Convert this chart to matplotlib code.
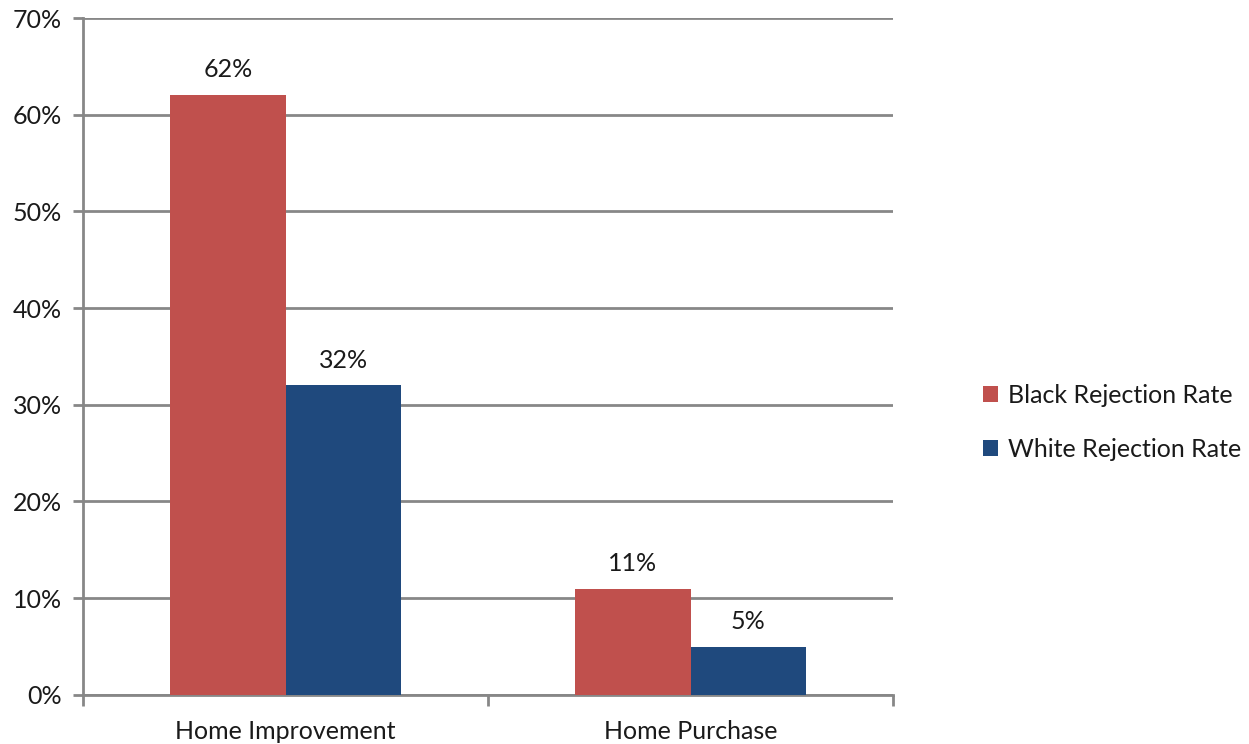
import matplotlib
matplotlib.use("Agg")
import matplotlib.pyplot as plt
import numpy as np
from matplotlib.patches import Patch

plt.rcParams['font.family'] = ['Lato', 'DejaVu Sans']

# data
categories = ['Home Improvement', 'Home Purchase']
series_names = ['Black Rejection Rate', 'White Rejection Rate']
black_rate = [62, 11]
white_rate = [32, 5]
y_ticks = [0, 10, 20, 30, 40, 50, 60, 70]

red = '#C0504D'
blue = '#1F497D'
grey = '#878787'
txt = '#1a1a1a'
fs = 18

fig = plt.figure(figsize=(12.49, 7.44), dpi=100)
ax = fig.add_axes([0.0665, 0.066, 0.6485, 0.9098])

x = np.arange(len(categories))
w = 0.285
b1 = ax.bar(x - w / 2, black_rate, w, color=red, zorder=3)
b2 = ax.bar(x + w / 2, white_rate, w, color=blue, zorder=3)

for bars, vals in ((b1, black_rate), (b2, white_rate)):
    for r, v in zip(bars, vals):
        ax.annotate(f'{v}%', (r.get_x() + r.get_width() / 2, v),
                    xytext=(0, 10), textcoords='offset points',
                    ha='center', va='bottom', fontsize=fs, color=txt)

ax.set_xlim(-0.5, 1.5)
ax.set_ylim(0, 70)
ax.set_yticks(y_ticks)
ax.set_yticklabels([f'{t}%' for t in y_ticks])
ax.yaxis.grid(True, color=grey, linewidth=2, zorder=0)
ax.set_axisbelow(True)

ax.set_xticks([-0.5, 0.5, 1.5], minor=False)
ax.set_xticklabels([])
ax.set_xticks(x, minor=True)
ax.set_xticklabels(categories, minor=True)
ax.tick_params(axis='x', which='major', length=8, width=2, color=grey, direction='out')
ax.tick_params(axis='x', which='minor', length=0, pad=18, labelsize=fs, labelcolor=txt)
ax.tick_params(axis='y', length=7, width=2, color=grey, labelsize=fs, labelcolor=txt, pad=8)

for s in ['top', 'right']:
    ax.spines[s].set_visible(False)
for s in ['left', 'bottom']:
    ax.spines[s].set_color(grey)
    ax.spines[s].set_linewidth(2)

handles = [Patch(facecolor=red), Patch(facecolor=blue)]
fig.legend(handles, series_names, loc='center left', bbox_to_anchor=(0.769, 0.432),
           frameon=False, fontsize=fs, handlelength=0.6, handleheight=0.6,
           handletextpad=0.4, labelspacing=1.25, labelcolor=txt)

fig.savefig('out.png', dpi=100)
